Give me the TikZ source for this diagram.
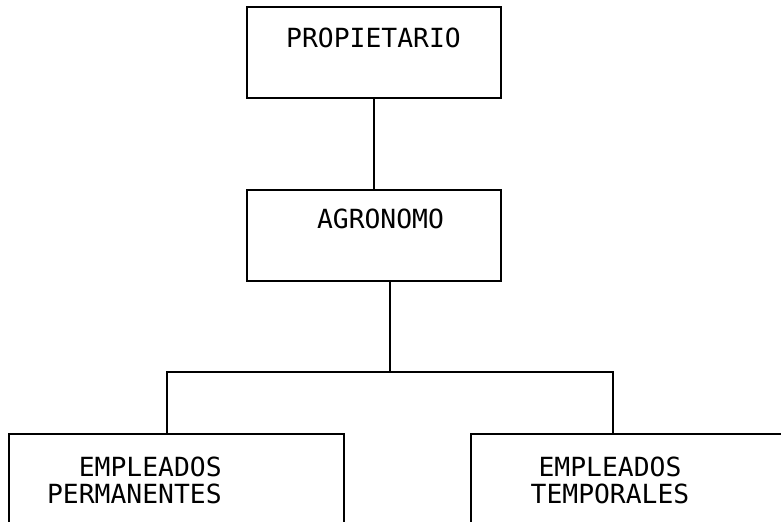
\documentclass[tikz,border=0pt]{standalone}
\usepackage{fontspec}
\setmonofont{DejaVu Sans Mono}
\usepackage{tikz}
\usetikzlibrary{positioning}
\tikzstyle{orgbox} = [rectangle, draw=black, fill=none, line width=1pt,
  minimum width=5.08cm, minimum height=1.82cm]
\tikzstyle{boxtext} = [inner sep=0pt, text=black,
  font=\ttfamily\fontsize{15}{15.3}\selectfont]
\tikzstyle{link} = [line width=1pt, black]

\begin{document}
\begin{tikzpicture}[x=0.02cm, y=-0.02cm]
  \clip (0,0) rectangle (781,521);
  \node (prop) [orgbox] at (374,52.5) {};
  \node (agro) [orgbox, below=1.8cm of prop] {};
  \node (perm) [orgbox, anchor=north west, minimum width=6.7cm, minimum height=3cm] at (8,433) {};
  \node (temp) [orgbox, anchor=north west, minimum width=6.8cm, minimum height=3cm] at (470,433) {};

  \node (propText) [boxtext, anchor=north] at (373.5,28) {PROPIETARIO};
  \node (agroText) [boxtext, anchor=north] at (380.5,209) {AGRONOMO};
  \node (permText) [boxtext, anchor=north east, align=right] at (222,457) {EMPLEADOS\\PERMANENTES};
  \node (tempText) [boxtext, anchor=north, align=center] at (610,457) {EMPLEADOS\\TEMPORALES};

  \coordinate (tee) at (390,372);
  \coordinate (lbranch) at (167,372);
  \coordinate (rbranch) at (613,372);

  \draw[link] (prop) -- (agro);
  \draw[link] (agro.south -| tee) -- (tee);
  \draw[link] (perm.north -| lbranch) -- (lbranch) -- (rbranch) -- (temp.north -| rbranch);
\end{tikzpicture}
\end{document}
